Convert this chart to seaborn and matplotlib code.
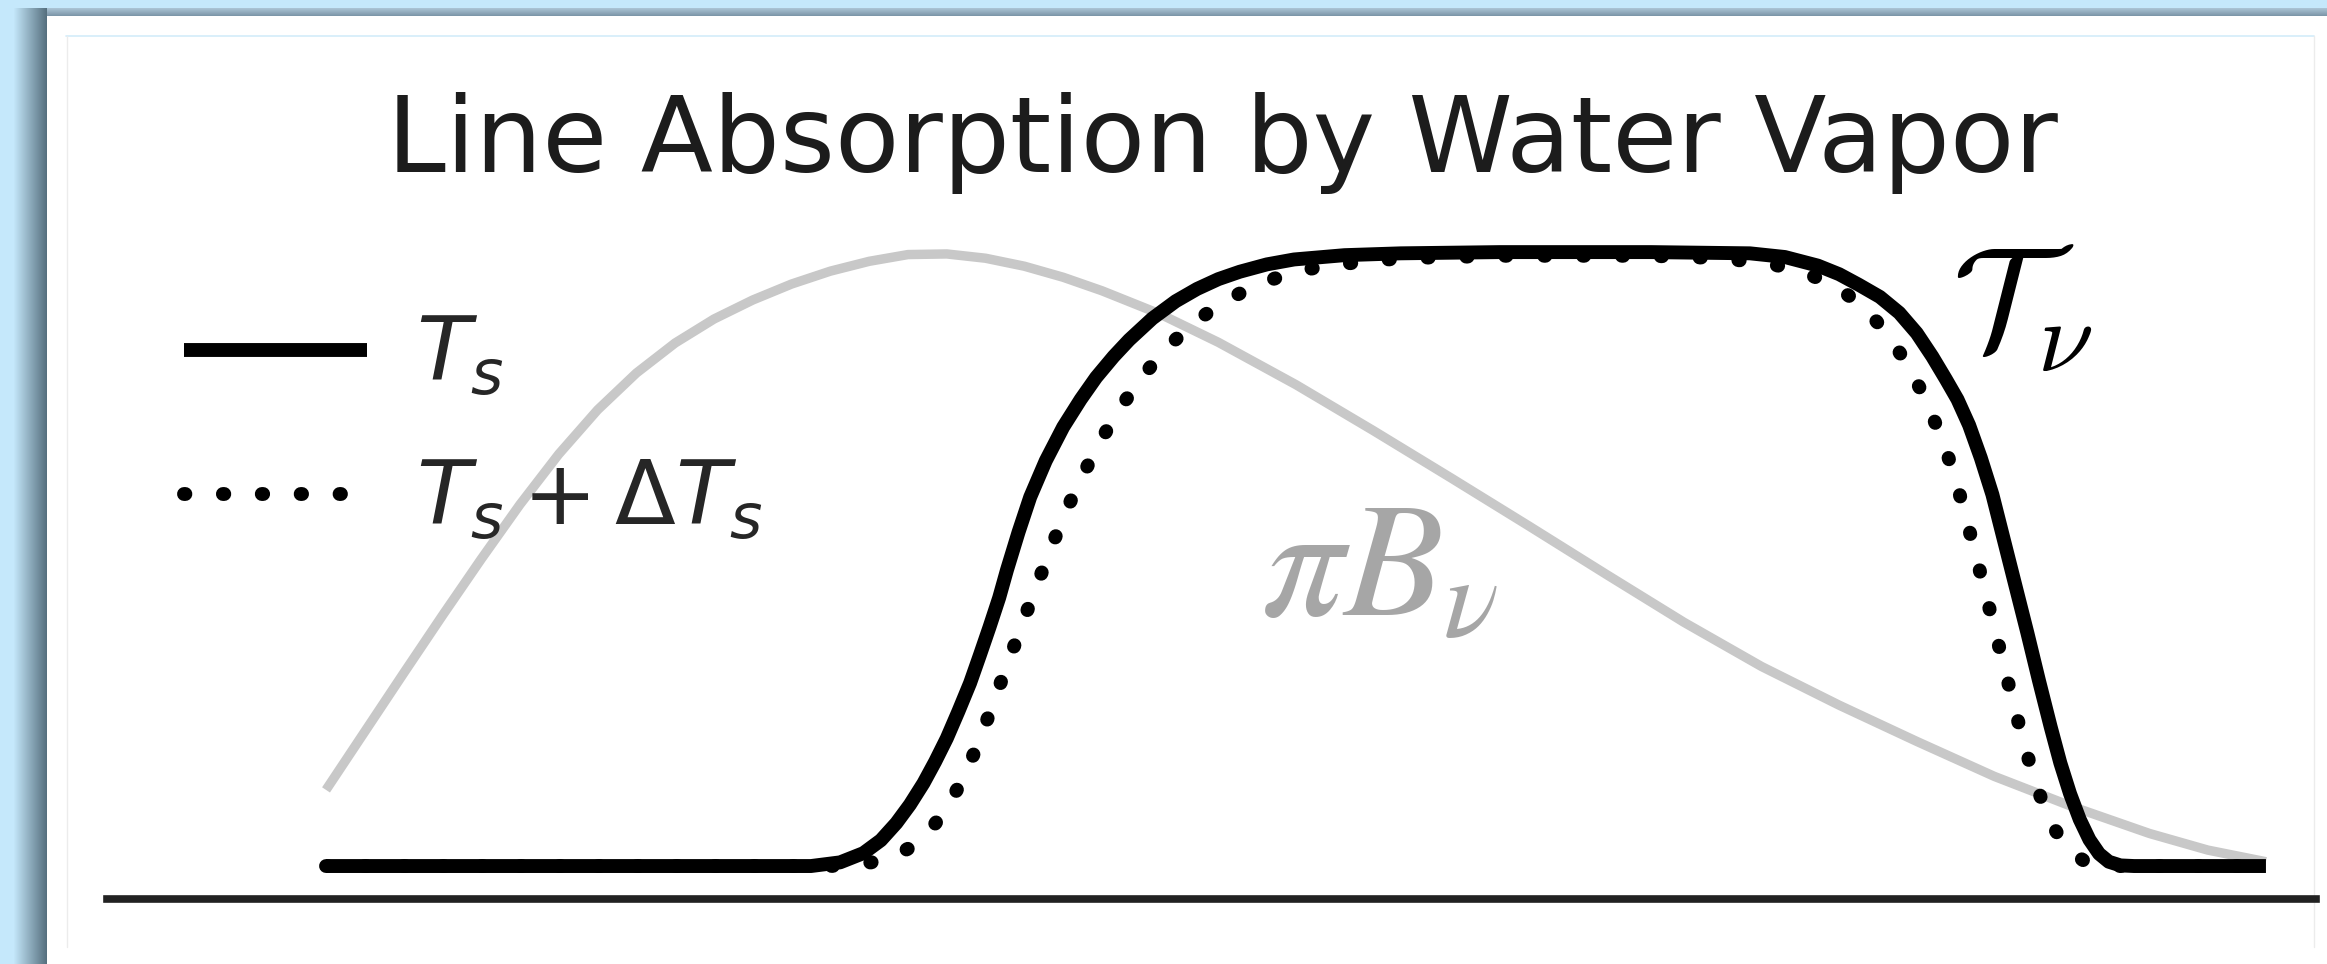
import matplotlib
matplotlib.use("Agg")
import matplotlib.pyplot as plt
import seaborn as sns
import pandas as pd
from matplotlib.patches import Rectangle
from matplotlib.colors import to_rgb

# ---- data (normalised spectral units, wavenumber axis 0..100) ----
planck_x = [0, 2, 4, 6, 8, 10, 12, 14, 16, 18, 20, 22, 24, 26, 28, 30, 32, 34, 36, 38, 40,
            43, 46, 50, 54, 58, 62, 66, 70, 74, 78, 82, 86, 90, 94, 97, 100]
planck_y = [0.124, 0.219, 0.314, 0.408, 0.500, 0.589, 0.671, 0.743, 0.803, 0.852, 0.891,
            0.922, 0.948, 0.969, 0.985, 0.996, 0.997, 0.990, 0.977, 0.959, 0.937, 0.899,
            0.853, 0.784, 0.709, 0.632, 0.554, 0.475, 0.397, 0.325, 0.262, 0.203, 0.146,
            0.097, 0.053, 0.026, 0.007]

trans_x = [0.0, 25.0, 26.5, 27.7, 28.6, 29.4, 30.1, 30.8, 31.4, 32.0, 32.6, 33.2, 33.7, 34.2,
           34.7, 35.1, 35.7, 36.3, 37.1, 38.0, 38.9, 39.7, 40.6, 41.4, 42.6, 43.8, 44.9, 46.0,
           47.1, 48.5, 49.9, 52.5, 55.4, 60.5, 68.3, 73.4, 75.2, 76.9, 78.0, 79.0, 80.1, 81.1,
           82.0, 82.8, 83.5, 84.1, 84.7, 85.3, 85.9, 86.5, 87.1, 87.7, 88.3, 88.9, 89.4, 89.9,
           90.4, 90.9, 91.4, 91.9, 92.5, 93.2, 100.0]
trans_y = [0.0, 0.0, 0.006, 0.021, 0.042, 0.070, 0.100, 0.135, 0.170, 0.208, 0.252, 0.298,
           0.343, 0.389, 0.437, 0.482, 0.544, 0.601, 0.660, 0.715, 0.760, 0.796, 0.830, 0.857,
           0.892, 0.920, 0.940, 0.956, 0.968, 0.980, 0.988, 0.995, 0.998, 1.0, 1.0, 0.998,
           0.992, 0.978, 0.964, 0.947, 0.927, 0.901, 0.868, 0.830, 0.793, 0.760, 0.718, 0.665,
           0.605, 0.530, 0.455, 0.380, 0.302, 0.227, 0.168, 0.118, 0.076, 0.043, 0.020, 0.007,
           0.001, 0.0, 0.0]

warm_x = [0.0, 26.0, 27.5, 28.5, 29.3, 30.1, 30.8, 31.4, 31.9, 32.4, 32.8, 33.2, 33.6, 34.1,
          34.7, 35.4, 36.0, 36.7, 37.3, 37.9, 38.6, 39.4, 40.3, 41.2, 42.2, 43.4, 44.7, 46.2,
          47.8, 49.5, 51.5, 55.4, 60.5, 68.2, 72.0, 74.6, 76.3, 77.9, 79.3, 80.5, 81.5, 82.3,
          82.9, 83.5, 84.0, 84.5, 85.0, 85.5, 86.0, 86.5, 87.0, 87.5, 88.0, 88.5, 89.0, 89.5,
          90.0, 90.6, 91.4, 92.5, 100.0]
warm_y = [0.0, 0.0, 0.003, 0.008, 0.016, 0.030, 0.048, 0.069, 0.091, 0.117, 0.141, 0.168,
          0.199, 0.240, 0.292, 0.352, 0.404, 0.462, 0.512, 0.560, 0.610, 0.661, 0.713, 0.758,
          0.802, 0.846, 0.884, 0.918, 0.944, 0.964, 0.978, 0.990, 0.994, 0.994, 0.990, 0.980,
          0.966, 0.943, 0.910, 0.866, 0.818, 0.770, 0.726, 0.678, 0.630, 0.572, 0.512, 0.450,
          0.388, 0.325, 0.263, 0.203, 0.148, 0.102, 0.066, 0.040, 0.022, 0.009, 0.002, 0.0, 0.0]

title_text = "Line Absorption by Water Vapor"
legend_labels = [r"$T_s$", r"$T_s + \Delta T_s$"]
trans_label = r"$\mathcal{T}_\nu$"
planck_label = r"$\pi B_\nu$"

planck = pd.DataFrame({"nu": planck_x, "value": planck_y})
trans = pd.DataFrame({"nu": trans_x, "value": trans_y})
warm = pd.DataFrame({"nu": warm_x, "value": warm_y})

sns.set_theme(style="white")
plt.rcParams["font.family"] = ["DejaVu Sans"]
plt.rcParams["mathtext.fontset"] = "dejavusans"

W, H = 2327, 964
BLUE = "#c5e8fb"
fig = plt.figure(figsize=(W / 100, H / 100), dpi=100, facecolor=BLUE)

# ---- slide-style backdrop: blue page, soft shadow, white card ----
bg = fig.add_axes([0, 0, 1, 1], zorder=-10)
bg.set_xlim(0, W)
bg.set_ylim(H, 0)
bg.axis("off")

c0 = to_rgb(BLUE)
c1 = to_rgb("#56707f")
n_left = 34
for i in range(n_left):
    t = i / (n_left - 1)
    col = tuple(a + (b - a) * t for a, b in zip(c0, c1))
    bg.add_patch(Rectangle((13 + i, 8), 1.05, H, color=col, lw=0))
c2 = to_rgb("#7d97a9")
c3 = to_rgb("#a9c2d3")
for j in range(8):
    t = j / 7
    col = tuple(a + (b - a) * t for a, b in zip(c3, c2))
    bg.add_patch(Rectangle((47, 8 + j), W, 1.05, color=col, lw=0))
bg.add_patch(Rectangle((47, 16), W - 47, H - 16, color="white", lw=0))
bg.plot([66, 2314], [36, 36], color="#d3ecf9", lw=1.2)
bg.plot([67, 67], [36, 947], color="#ececec", lw=1.0)
bg.plot([2314, 2314], [36, 947], color="#ececec", lw=1.0)

# ---- main axes ----
ax = fig.add_axes([107 / W, 1 - 899 / H, (2316 - 107) / W, (899 - 230) / H])
ax.patch.set_alpha(0)

sns.lineplot(data=planck, x="nu", y="value", ax=ax, color="#c8c8c8", lw=6.8,
             solid_capstyle="butt", solid_joinstyle="round", estimator=None,
             sort=False, zorder=2)
sns.lineplot(data=trans, x="nu", y="value", ax=ax, color="black", lw=10.0,
             solid_capstyle="butt", solid_joinstyle="round", estimator=None,
             sort=False, zorder=3, label=legend_labels[0])
sns.lineplot(data=warm, x="nu", y="value", ax=ax, color="black", lw=10.0,
             linestyle=(0, (0.1, 2.7)), dash_capstyle="round", estimator=None,
             sort=False, zorder=4, label=legend_labels[1])

ax.set_xlim(-11.29, 102.58)
ax.set_ylim(-0.0537, 1.036)
ax.set_xticks([])
ax.set_yticks([])
ax.set_xlabel("")
ax.set_ylabel("")
sns.despine(ax=ax, left=True)
ax.spines["bottom"].set_linewidth(5.5)
ax.spines["bottom"].set_color("#222222")

ax.legend(loc="upper left", bbox_to_anchor=(184 / W, 1 - 313 / H),
          bbox_transform=fig.transFigure, frameon=False, fontsize=64,
          handlelength=2.06, handletextpad=0.55, borderpad=0, borderaxespad=0,
          labelspacing=0.64)

ax.text(83.8, 0.845, trans_label, math_fontfamily="cm", fontsize=104,
        color="black", ha="left", va="baseline")
ax.text(48.2, 0.409, planck_label, math_fontfamily="stix", fontsize=118,
        color="#a6a6a6", ha="left", va="baseline")

fig.text(1222 / W, 1 - 172 / H, title_text, ha="center", va="baseline",
         fontsize=76, color="#1c1c1c")

fig.savefig("out.png", dpi=100, facecolor=fig.get_facecolor())
